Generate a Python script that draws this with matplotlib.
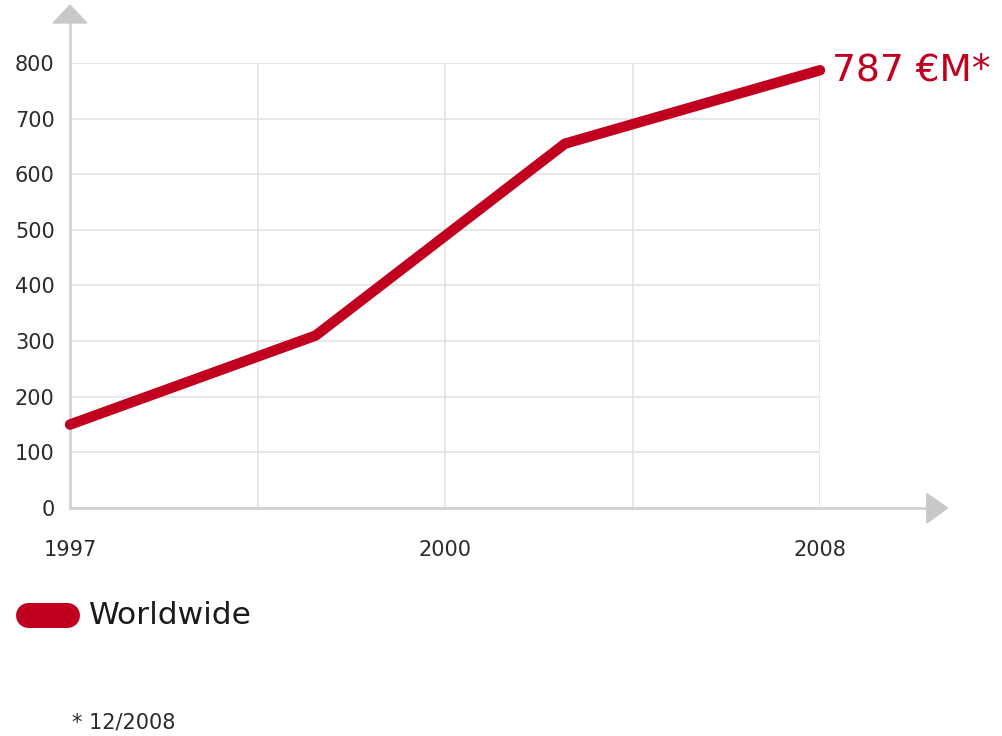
import matplotlib.pyplot as plt
from matplotlib.lines import Line2D
from matplotlib.patches import Polygon

# Worldwide revenue, million euro
period_pos = [0, 1.31, 2.64, 4]
revenue = [150, 310, 655, 787]
tick_pos = [0, 1, 2, 3, 4]
tick_labels = ["1997", "", "2000", "", "2008"]
y_ticks = [0, 100, 200, 300, 400, 500, 600, 700, 800]
series_name = "Worldwide"
footnote = "* 12/2008"

RED = "#c1001f"
GRID = "#e3e3e3"
AXIS = "#d2d2d2"
TEXT = "#2b2b2b"

plt.rcParams["font.family"] = ["DejaVu Sans"]

W, H = 1002, 736
fig = plt.figure(figsize=(W / 100, H / 100), dpi=100)
fig.patch.set_facecolor("white")
ax = fig.add_axes([70 / W, 1 - 508 / H, 750 / W, 445 / H])

ax.set_xlim(0, 4)
ax.set_ylim(0, 800)
ax.set_xticks(tick_pos)
ax.set_xticklabels(tick_labels)
ax.set_yticks(y_ticks)
ax.grid(True, color=GRID, lw=1.2)
ax.set_axisbelow(True)
for s in ax.spines.values():
    s.set_visible(False)
ax.tick_params(axis="y", length=0, pad=11, labelsize=15, labelcolor=TEXT)
ax.tick_params(axis="x", length=0, pad=23, labelsize=15, labelcolor=TEXT)

# axes with arrow heads
ax.plot([0, 0], [0, 872], color=AXIS, lw=2, clip_on=False, zorder=1)
ax.plot([0, 4.58], [0, 0], color=AXIS, lw=2, clip_on=False, zorder=1)
ax.add_patch(Polygon([[-0.09, 872], [0.09, 872], [0, 904]], closed=True,
                     color="#c8c8c8", clip_on=False))
ax.add_patch(Polygon([[4.57, 26], [4.57, -27], [4.68, 0]], closed=True,
                     color="#c8c8c8", clip_on=False))

ax.plot(period_pos, revenue, color=RED, lw=7.5, solid_capstyle="round",
        solid_joinstyle="miter", clip_on=False, zorder=3)
ax.annotate(f"{revenue[-1]} €M*", xy=(period_pos[-1], revenue[-1]),
            xytext=(9, 0), textcoords="offset points", va="center",
            ha="left", color=RED, fontsize=27, annotation_clip=False)

# legend
fig.add_artist(Line2D([28 / W, 67 / W], [1 - 615 / H, 1 - 615 / H],
                      color=RED, lw=18, solid_capstyle="round"))
fig.text(89 / W, 1 - 616 / H, series_name, fontsize=22.5, color="#1a1a1a",
         va="center", ha="left")
fig.text(72 / W, 1 - 722 / H, footnote, fontsize=15, color=TEXT,
         va="center", ha="left")

fig.savefig("out.png", dpi=100, facecolor="white")
